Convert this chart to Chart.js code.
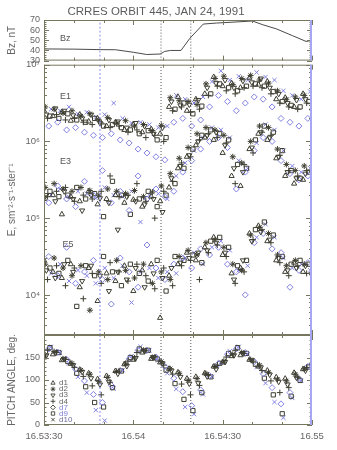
<!DOCTYPE html>
<html>
<head>
<meta charset="utf-8">
<title>CRRES orbit 445</title>
<script src="https://cdn.jsdelivr.net/npm/chart.js@4.4.1/dist/chart.umd.min.js"></script>
<style>
  html, body { margin: 0; padding: 0; background: #fff; }
  #page { position: relative; width: 337px; height: 450px; overflow: hidden; }
  canvas { position: absolute; left: 0; }
</style>
</head>
<body>
<div id="page">
  <canvas id="bzChart" width="337" height="70" style="top:0"></canvas>
  <canvas id="fluxChart" width="337" height="290" style="top:55px"></canvas>
  <canvas id="pitchChart" width="337" height="125" style="top:325px"></canvas>
</div>
<script>
// all times are seconds after 16:53:30 UT
const sampleSec = [0, 3, 6, 9, 12, 15, 18, 21, 24, 27, 30, 33, 36, 39, 42, 45, 48, 51, 54, 57, 60, 63, 66, 69, 72, 75, 78, 81, 84, 87, 90];
// each detector is read a little later in the sweep
const detOffsetSec = [0, 0.4, 0.8, 1.2, 1.6, 2.0, 2.4];
const detectors = ['d1', 'd2', 'd3', 'd4', 'd7', 'd9', 'd10'];

// magnetometer
const bzSec = [0, 10, 19, 24, 30, 34.5, 39, 40.5, 42.5, 46, 49, 53.5, 58, 63.5, 70, 73.5, 78, 83.5, 88, 90];
const bzNT = [41.5, 41.3, 40.8, 40.7, 38.2, 36, 36.5, 39, 40, 40, 52, 66, 67, 67.9, 69, 65.3, 61.3, 54.5, 48.9, 49.8];

// log10 of flux, channel E1
const e1D1 = [6.40, 6.33, 6.38, 6.27, 6.35, 6.26, 6.30, 6.20, 6.25, 6.15, 6.22, 6.12, 6.16, 6.10, 6.45, 6.58, 6.40, 6.55, 6.62, 6.84, 6.72, 6.76, 6.70, 6.83, 6.74, 6.78, 6.55, 6.57, 6.45, 6.62, 6.43];
const e1D2 = [6.45, 6.42, 6.37, 6.40, 6.33, 6.36, 6.28, 6.31, 6.24, 6.27, 6.20, 6.22, 6.14, 6.21, 6.57, 6.53, 6.52, 6.48, 6.75, 6.82, 6.85, 6.74, 6.82, 6.86, 6.80, 6.76, 6.66, 6.55, 6.58, 6.60, 6.52];
const e1D3 = [6.35, 6.43, 6.40, 6.34, 6.30, 6.35, 6.24, 6.28, 6.26, 6.18, 6.24, 6.20, 6.10, 6.18, 6.52, 6.47, 6.48, 6.54, 6.70, 6.76, 6.80, 6.70, 6.79, 6.77, 6.82, 6.70, 6.62, 6.50, 6.54, 6.55, 6.50];
const e1D4 = [6.30, 6.35, 6.28, 6.30, 6.25, 6.22, 6.24, 6.18, 6.20, 6.12, 6.15, 6.05, 6.08, 6.00, 6.40, 6.45, 6.38, 6.42, 6.60, 6.72, 6.66, 6.62, 6.70, 6.72, 6.70, 6.62, 6.50, 6.45, 6.42, 6.50, 6.38];
const e1D7 = [6.20, 6.25, 6.15, 6.18, 6.12, 6.08, 6.05, 6.10, 6.02, 5.98, 5.90, 5.85, 5.80, 5.76, 6.25, 6.30, 6.20, 6.28, 6.45, 6.60, 6.52, 6.40, 6.50, 6.58, 6.55, 6.45, 6.30, 6.25, 6.20, 6.30, 6.22];
const e1D9 = [6.33, 6.30, 6.36, 6.28, 6.25, 6.30, 6.20, 6.22, 6.18, 6.15, 6.10, 6.14, 6.02, 6.05, 6.42, 6.50, 6.36, 6.46, 6.62, 6.75, 6.70, 6.66, 6.72, 6.75, 6.72, 6.65, 6.52, 6.47, 6.45, 6.52, 6.40];
const e1D10 = [6.42, 6.40, 6.45, 6.36, 6.38, 6.32, 6.35, 6.50, 6.30, 6.24, 6.25, 6.22, 6.18, 6.20, 6.60, 6.55, 6.50, 6.58, 6.78, 6.92, 6.80, 6.85, 6.80, 6.90, 6.84, 6.80, 6.66, 6.60, 6.55, 6.65, 6.55];

// log10 of flux, channel E3
const e3D1 = [5.25, 5.30, 5.05, 5.28, 5.22, 5.35, 5.18, 5.25, 5.30, 5.20, 5.24, 5.15, 5.28, 5.22, 5.40, 5.65, 5.80, 5.95, 6.05, 6.02, 5.85, 5.55, 5.42, 5.90, 6.10, 6.02, 5.78, 5.55, 5.45, 5.50, 5.62];
const e3D2 = [5.40, 5.45, 5.38, 5.35, 5.40, 5.36, 5.30, 5.38, 5.35, 5.32, 5.36, 5.28, 5.34, 5.42, 5.58, 5.78, 5.92, 6.10, 6.18, 6.15, 6.08, 5.80, 5.72, 6.00, 6.20, 6.18, 5.90, 5.70, 5.62, 5.68, 5.75];
const e3D3 = [5.30, 5.22, 5.35, 5.25, 5.10, 5.30, 5.26, 5.20, 4.85, 5.28, 5.22, 5.18, 5.25, 5.08, 5.52, 5.68, 5.82, 6.00, 6.08, 6.12, 5.95, 5.65, 5.60, 5.92, 6.12, 6.05, 5.80, 5.60, 5.52, 5.58, 5.65];
const e3D4 = [5.28, 5.35, 5.40, 5.22, 5.30, 5.25, 5.35, 5.55, 5.28, 5.30, 5.45, 5.22, 5.00, 5.35, 5.48, 5.72, 5.80, 6.02, 6.10, 6.05, 5.98, 5.45, 5.70, 5.85, 6.12, 6.08, 5.82, 5.62, 5.55, 5.62, 5.72];
const e3D7 = [5.20, 5.42, 5.25, 5.15, 5.48, 5.30, 5.62, 5.20, 5.35, 5.10, 5.55, 5.25, 5.38, 5.28, 5.35, 5.60, 5.75, 5.90, 6.00, 6.05, 5.92, 5.38, 5.60, 5.88, 6.05, 6.00, 5.75, 5.58, 5.50, 5.55, 5.68];
const e3D9 = [5.35, 5.28, 5.30, 5.40, 5.25, 5.32, 5.02, 5.48, 5.30, 5.05, 5.25, 5.35, 5.15, 5.30, 5.45, 5.65, 5.90, 6.08, 6.15, 6.10, 6.02, 5.70, 5.65, 6.02, 6.20, 6.12, 5.88, 5.62, 5.52, 5.60, 5.72];
const e3D10 = [5.30, 5.38, 5.28, 5.35, 5.32, 5.26, 5.40, 5.30, 5.28, 5.35, 4.95, 5.30, 5.32, 5.25, 5.55, 5.72, 5.88, 6.05, 6.18, 6.15, 6.05, 5.75, 5.65, 5.98, 6.22, 6.15, 5.88, 5.68, 5.60, 5.65, 5.75];

// log10 of flux, channel E5
const e5D1 = [4.45, 4.30, 4.22, 4.40, 4.10, 4.35, 3.92, 4.28, 4.18, 4.38, 4.05, 4.32, 4.40, 3.70, 4.25, 4.40, 4.55, 4.45, 4.62, 4.75, 4.52, 4.28, 4.35, 4.80, 4.90, 4.70, 4.45, 4.30, 4.42, 4.30, 4.28];
const e5D2 = [4.40, 4.48, 4.35, 4.25, 4.38, 3.80, 4.30, 4.20, 4.45, 4.32, 4.22, 4.40, 4.15, 4.30, 4.20, 4.50, 4.58, 4.52, 4.68, 4.72, 4.62, 4.40, 4.32, 4.78, 4.88, 4.80, 4.52, 4.38, 4.45, 4.40, 4.38];
const e5D3 = [4.32, 4.22, 4.40, 4.30, 4.18, 4.38, 4.25, 4.05, 4.30, 4.20, 4.35, 4.10, 4.28, 4.22, 4.35, 4.42, 4.48, 4.55, 4.58, 4.68, 4.55, 4.20, 4.45, 4.70, 4.82, 4.72, 4.48, 4.32, 4.35, 4.38, 4.30];
const e5D4 = [4.20, 4.38, 4.12, 4.35, 3.95, 4.28, 4.15, 4.42, 4.30, 4.18, 4.40, 4.25, 4.08, 4.35, 4.12, 4.38, 4.45, 4.20, 4.55, 4.65, 4.50, 4.15, 4.30, 4.72, 4.85, 4.68, 4.42, 4.25, 4.38, 4.28, 4.22];
const e5D7 = [4.50, 4.25, 4.62, 4.15, 4.30, 4.45, 4.20, 3.88, 4.48, 4.30, 4.10, 4.65, 4.35, 4.20, 4.40, 4.48, 4.35, 4.60, 4.52, 4.62, 4.40, 4.30, 4.00, 4.68, 4.80, 4.60, 4.55, 4.10, 4.32, 4.42, 4.30];
const e5D9 = [4.35, 4.28, 4.45, 3.85, 4.38, 4.25, 4.50, 4.30, 4.12, 4.40, 4.28, 4.18, 4.45, 4.05, 4.50, 4.45, 4.52, 4.42, 4.70, 4.75, 4.62, 4.38, 4.45, 4.85, 4.95, 4.78, 4.50, 4.40, 4.45, 4.40, 4.35];
const e5D10 = [4.28, 4.40, 4.18, 4.32, 4.25, 4.15, 4.35, 4.22, 4.38, 3.90, 4.30, 4.35, 4.22, 4.30, 4.28, 4.48, 4.55, 4.40, 4.62, 4.70, 4.58, 4.32, 4.38, 4.75, 4.92, 4.75, 4.48, 4.35, 4.40, 4.32, 4.10];

// pitch angle of each detector's look direction, deg
const pitchD1 = [150, 157, 144, 136, 123, 115, 102, 109, 120, 135, 145, 161, 147, 139, 125, 117, 103, 107, 115, 130, 139, 153, 155, 145, 130, 121, 106, 103, 116, 124, 138];
const pitchD2 = [156, 163, 147, 137, 122, 113, 97, 106, 119, 136, 149, 166, 150, 141, 125, 115, 99, 103, 114, 130, 142, 157, 161, 145, 133, 117, 102, 98, 113, 125, 139];
const pitchD3 = [155, 161, 147, 133, 118, 104, 90, 96, 114, 131, 149, 166, 151, 137, 121, 107, 92, 93, 108, 124, 140, 155, 160, 144, 128, 112, 96, 90, 105, 121, 135];
const pitchD4 = [166, 161, 146, 128, 108, 87, 67, 95, 120, 142, 161, 165, 151, 133, 113, 91, 67, 88, 111, 133, 151, 166, 159, 142, 121, 98, 72, 83, 106, 128, 146];
const pitchD7 = [169, 162, 146, 124, 98, 68, 50, 88, 121, 147, 166, 166, 151, 130, 104, 74, 43, 78, 110, 136, 157, 169, 161, 141, 114, 83, 47, 72, 103, 130, 152];
const pitchD9 = [172, 161, 141, 115, 85, 50, 40, 83, 120, 150, 169, 166, 147, 122, 92, 57, 32, 72, 107, 137, 159, 172, 159, 135, 104, 67, 25, 64, 99, 129, 154];
const pitchD10 = [174, 160, 137, 107, 72, 33, 10, 81, 122, 153, 174, 166, 144, 115, 80, 40, 24, 68, 107, 139, 164, 174, 157, 129, 93, 51, 16, 60, 98, 131, 157];

// event markers and axis ticks
const markerSec = [18.8, 39.3, 49.3];
const timeTickSec = [0, 30, 60, 90];
const timeTickText = ['16.53:30', '16.54', '16.54:30', '16.55'];
const timeMinorSec = [10, 20, 40, 50, 70, 80];
const bzTicks = [30, 40, 50, 60, 70];
const fluxDecades = [1e4, 1e5, 1e6, 1e7];
const pitchTicks = [0, 50, 100, 150];

const INK = '#3e3e32';
const BLUE = '#8080e2';
const AXIS = '#77775f';
const EDGE = '#a6a6f2';
const TEXT = '#666666';
const FONT = "'Liberation Sans', Arial, sans-serif";
const SUP = { 4: '\u2074', 5: '\u2075', 6: '\u2076', 7: '\u2077' };

const marks = [
	{ style: 'triangle', rot: 0, color: INK, text: TEXT },
	{ style: 'star', rot: 0, color: INK, text: TEXT },
	{ style: 'triangle', rot: 180, color: INK, text: TEXT },
	{ style: 'cross', rot: 0, color: INK, text: TEXT },
	{ style: 'rectRot', rot: 0, color: BLUE, text: '#7e7ed2' },
	{ style: 'rect', rot: 0, color: INK, text: '#7e7ed2' },
	{ style: 'crossRot', rot: 0, color: BLUE, text: '#6d6d9a' }
];

Chart.defaults.font.family = FONT;
Chart.defaults.color = TEXT;
Chart.defaults.animation = false;

function pointSet(values, i, toY) {
	const m = marks[i];
	return {
		label: detectors[i],
		data: values.map((v, k) => ({ x: sampleSec[k] + detOffsetSec[i], y: toY(v) })),
		showLine: false,
		pointStyle: m.style,
		pointRotation: m.rot,
		pointRadius: 3,
		pointBorderWidth: 1,
		borderColor: m.color,
		pointBorderColor: m.color,
		pointBackgroundColor: 'rgba(0,0,0,0)'
	};
}

function markerSets(lo, hi) {
	return markerSec.map((t, i) => ({
		data: [{ x: t, y: lo }, { x: t, y: hi }],
		showLine: true,
		pointRadius: 0,
		borderWidth: 1,
		borderColor: i === 0 ? '#9090f0' : '#555555',
		borderDash: i === 0 ? [2, 2] : [1, 2]
	}));
}

// box with inward ticks on all four sides, IDL style
function framePlugin(yMarks) {
	const xMarks = timeTickSec.map(v => [v, 5]).concat(timeMinorSec.map(v => [v, 3]));
	return {
		id: 'frame',
		afterDraw(chart) {
			const { ctx, chartArea: a, scales } = chart;
			ctx.save();
			ctx.strokeStyle = AXIS;
			ctx.lineWidth = 1;
			ctx.strokeRect(a.left + 0.5, a.top + 0.5, a.right - a.left - 1, a.bottom - a.top - 1);
			ctx.beginPath();
			for (const [v, len] of xMarks) {
				const px = Math.round(scales.x.getPixelForValue(v)) + 0.5;
				ctx.moveTo(px, a.top); ctx.lineTo(px, a.top + len);
				ctx.moveTo(px, a.bottom); ctx.lineTo(px, a.bottom - len);
			}
			for (const [v, len] of yMarks) {
				const py = Math.round(scales.y.getPixelForValue(v)) + 0.5;
				ctx.moveTo(a.left, py); ctx.lineTo(a.left + len, py);
				ctx.moveTo(a.right, py); ctx.lineTo(a.right - len, py);
			}
			ctx.stroke();
			ctx.strokeStyle = EDGE;
			ctx.lineWidth = 2;
			ctx.beginPath();
			ctx.moveTo(a.right - 1, a.top);
			ctx.lineTo(a.right - 1, a.bottom);
			ctx.stroke();
			ctx.restore();
		}
	};
}

// small labels placed in data coordinates
function tagPlugin(items) {
	return {
		id: 'tags',
		afterDatasetsDraw(chart) {
			const { ctx, scales } = chart;
			ctx.save();
			ctx.font = '9px ' + FONT;
			ctx.fillStyle = '#555555';
			ctx.textBaseline = 'middle';
			for (const it of items) {
				ctx.fillText(it.text, scales.x.getPixelForValue(it.x), scales.y.getPixelForValue(it.y));
			}
			ctx.restore();
		}
	};
}

const detectorKey = {
	id: 'detectorKey',
	afterDatasetsDraw(chart) {
		const { ctx, chartArea: a } = chart;
		ctx.save();
		ctx.font = '8px ' + FONT;
		ctx.textBaseline = 'middle';
		detectors.forEach((name, i) => {
			const y = a.bottom - 42 + i * 6.1;
			const m = marks[i];
			ctx.strokeStyle = INK;
			ctx.fillStyle = 'rgba(0,0,0,0)';
			ctx.lineWidth = 0.9;
			Chart.helpers.drawPoint(ctx, { pointStyle: m.style, rotation: m.rot, radius: 2.4, borderWidth: 0.9 }, a.left + 9, y);
			ctx.fillStyle = m.text;
			ctx.fillText(name, a.left + 15, y);
		});
		ctx.restore();
	}
};

function xScale(show) {
	const axis = {
		type: 'linear',
		min: 0,
		max: 90,
		display: show,
		grid: { display: false, drawTicks: false },
		border: { display: false },
		afterBuildTicks: s => { s.ticks = timeTickSec.map(v => ({ value: v })); },
		ticks: {
			autoSkip: false,
			maxRotation: 0,
			padding: 6,
			font: { size: 9.5 },
			callback: v => timeTickText[timeTickSec.indexOf(v)]
		}
	};
	if (show) axis.afterFit = s => { s.height = 25; };
	return axis;
}

function yScale(opts) {
	return Object.assign({
		grid: { display: false, drawTicks: false },
		border: { display: false },
		afterFit: s => { s.width = 44; }
	}, opts);
}

function axisTitle(text) {
	return { display: true, text, color: TEXT, font: { size: 10 }, padding: { top: 6, bottom: 0 } };
}

const quiet = { legend: { display: false }, tooltip: { enabled: false } };

// Bz panel
const bzMarks = [];
for (let v = 30; v <= 70; v += 2) bzMarks.push([v, bzTicks.includes(v) ? 5 : 2.5]);

new Chart(document.getElementById('bzChart'), {
	type: 'scatter',
	data: {
		datasets: [
			{
				data: bzSec.map((t, k) => ({ x: t, y: bzNT[k] })),
				showLine: true,
				pointRadius: 0,
				borderWidth: 1,
				borderColor: '#4a4a4a'
			},
			...markerSets(30, 70)
		]
	},
	options: {
		responsive: false,
		layout: { padding: { left: 0, right: 25, top: 0, bottom: 7 } },
		scales: {
			x: xScale(false),
			y: yScale({
				min: 30,
				max: 70,
				afterBuildTicks: s => { s.ticks = bzTicks.map(v => ({ value: v })); },
				ticks: { padding: 4, autoSkip: false, font: { size: 9 } },
				title: axisTitle('Bz, nT')
			})
		},
		plugins: {
			...quiet,
			title: {
				display: true,
				text: 'CRRES ORBIT 445, JAN 24, 1991',
				color: '#5c5c5c',
				font: { size: 11.5, weight: 'normal' },
				padding: { top: 5, bottom: 1.2 }
			}
		}
	},
	plugins: [framePlugin(bzMarks), tagPlugin([{ text: 'Bz', x: 5.4, y: 51.4 }])]
});

// flux panel, three energy channels on one log axis
const fluxMarks = fluxDecades.map(v => [v, 6]);
for (let d = 3; d <= 6; d++) {
	for (let m = 2; m <= 9; m++) {
		const v = m * Math.pow(10, d);
		if (v >= 3000) fluxMarks.push([v, 3]);
	}
}
const toFlux = v => Math.pow(10, v);
const e1Sets = [e1D1, e1D2, e1D3, e1D4, e1D7, e1D9, e1D10];
const e3Sets = [e3D1, e3D2, e3D3, e3D4, e3D7, e3D9, e3D10];
const e5Sets = [e5D1, e5D2, e5D3, e5D4, e5D7, e5D9, e5D10];

new Chart(document.getElementById('fluxChart'), {
	type: 'scatter',
	data: {
		datasets: [
			...markerSets(3000, 1e7),
			...e1Sets.map((s, i) => pointSet(s, i, toFlux)),
			...e3Sets.map((s, i) => pointSet(s, i, toFlux)),
			...e5Sets.map((s, i) => pointSet(s, i, toFlux))
		]
	},
	options: {
		responsive: false,
		layout: { padding: { left: 0, right: 25, top: 9, bottom: 10 } },
		scales: {
			x: xScale(false),
			y: yScale({
				type: 'logarithmic',
				min: 3000,
				max: 1e7,
				afterBuildTicks: s => { s.ticks = fluxDecades.map(v => ({ value: v })); },
				ticks: {
					padding: 4,
					autoSkip: false,
					font: { size: 9.5 },
					callback: v => '10' + SUP[Math.round(Math.log10(v))]
				},
				title: axisTitle('E, sm\u207B\u00B2\u00B7s\u207B\u00B9\u00B7ster\u207B\u00B9')
			})
		},
		plugins: quiet
	},
	plugins: [
		framePlugin(fluxMarks),
		tagPlugin([
			{ text: 'E1', x: 5.4, y: 3.8e6 },
			{ text: 'E3', x: 5.4, y: 5.4e5 },
			{ text: 'E5', x: 6.2, y: 4.5e4 }
		])
	]
});

// pitch angle panel
const pitchMarks = [];
for (let v = 0; v <= 200; v += 10) pitchMarks.push([v, v % 50 === 0 ? 5 : 2.5]);
const pitchSets = [pitchD1, pitchD2, pitchD3, pitchD4, pitchD7, pitchD9, pitchD10];

new Chart(document.getElementById('pitchChart'), {
	type: 'scatter',
	data: {
		datasets: [
			...markerSets(0, 200),
			...pitchSets.map((s, i) => pointSet(s, i, v => v))
		]
	},
	options: {
		responsive: false,
		layout: { padding: { left: 0, right: 25, top: 10, bottom: 0 } },
		scales: {
			x: xScale(true),
			y: yScale({
				min: 0,
				max: 200,
				afterBuildTicks: s => { s.ticks = pitchTicks.map(v => ({ value: v })); },
				ticks: { padding: 4, autoSkip: false, font: { size: 9 } },
				title: axisTitle('PITCH ANGLE, deg.')
			})
		},
		plugins: quiet
	},
	plugins: [framePlugin(pitchMarks), detectorKey]
});
</script>
</body>
</html>
